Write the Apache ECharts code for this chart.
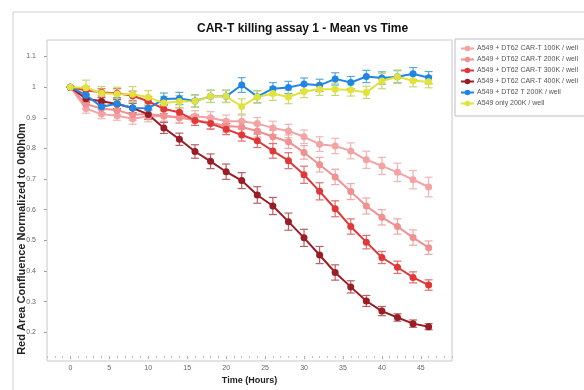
<!DOCTYPE html>
<html>
<head>
<meta charset="utf-8">
<script src="https://cdn.jsdelivr.net/npm/echarts@6/dist/echarts.min.js"></script>
<style>
html,body{margin:0;padding:0;background:#fff;}
#chart{width:584px;height:390px;}
</style>
</head>
<body>
<div id="chart"></div>
<script>
// ---- data ----
const hours = [0,2,4,6,8,10,12,14,16,18,20,22,24,26,28,30,32,34,36,38,40,42,44,46];
const seriesNames = [
  'A549 + DT62 CAR-T 100K / well',
  'A549 + DT62 CAR-T 200K / well',
  'A549 + DT62 CAR-T 300K / well',
  'A549 + DT62 CAR-T 400K / well',
  'A549 + DT62 T 200K / well',
  'A549 only 200K / well'
];
const car100 = [1.0,0.93,0.912,0.907,0.897,0.905,0.905,0.903,0.905,0.900,0.889,0.889,0.881,0.867,0.857,0.838,0.814,0.808,0.792,0.763,0.743,0.722,0.698,0.674];
const car200 = [1.0,0.945,0.93,0.925,0.91,0.912,0.907,0.9,0.893,0.884,0.873,0.87,0.857,0.838,0.822,0.787,0.747,0.707,0.659,0.612,0.575,0.545,0.509,0.476];
const car300 = [1.0,0.99,0.983,0.98,0.972,0.954,0.929,0.918,0.891,0.881,0.863,0.844,0.825,0.792,0.76,0.714,0.66,0.603,0.545,0.494,0.444,0.412,0.379,0.354];
const car400 = [1.0,0.962,0.954,0.945,0.932,0.911,0.867,0.83,0.79,0.758,0.724,0.695,0.648,0.612,0.561,0.508,0.452,0.395,0.348,0.302,0.269,0.248,0.228,0.218];
const tcell200 = [1.0,0.974,0.936,0.946,0.932,0.931,0.961,0.963,0.955,0.97,0.97,1.007,0.969,0.995,0.999,1.01,1.006,1.027,1.015,1.035,1.03,1.034,1.044,1.031];
const a549only = [1.0,0.998,0.98,0.978,0.977,0.967,0.948,0.953,0.954,0.97,0.97,0.937,0.968,0.979,0.968,0.986,0.993,0.993,0.991,0.983,1.02,1.034,1.021,1.018];
// error bar half-widths
const err100 = [0,0.015,0.015,0.015,0.018,0.018,0.018,0.018,0.018,0.02,0.02,0.02,0.02,0.022,0.022,0.022,0.024,0.025,0.026,0.028,0.028,0.03,0.03,0.032];
const err200 = [0,0.015,0.015,0.015,0.018,0.018,0.018,0.018,0.018,0.02,0.02,0.02,0.02,0.022,0.022,0.022,0.024,0.025,0.026,0.026,0.025,0.025,0.025,0.022];
const err300 = [0,0.012,0.012,0.015,0.015,0.015,0.015,0.015,0.016,0.018,0.018,0.02,0.022,0.024,0.026,0.028,0.028,0.026,0.025,0.022,0.02,0.02,0.018,0.017];
const err400 = [0,0.012,0.012,0.015,0.015,0.015,0.018,0.02,0.022,0.024,0.025,0.026,0.027,0.028,0.028,0.028,0.028,0.025,0.02,0.018,0.015,0.012,0.012,0.01];
const errT = [0,0.02,0.02,0.02,0.02,0.02,0.02,0.02,0.02,0.02,0.02,0.024,0.02,0.02,0.02,0.02,0.02,0.02,0.02,0.02,0.02,0.02,0.02,0.02];
const errOnly = [0,0.025,0.022,0.022,0.025,0.022,0.022,0.02,0.02,0.02,0.02,0.025,0.02,0.022,0.022,0.02,0.02,0.02,0.02,0.02,0.025,0.022,0.02,0.02];
const xTickLabels = [0,5,10,15,20,25,30,35,40,45];
const yTickLabels = [0.2,0.3,0.4,0.5,0.6,0.7,0.8,0.9,1.0,1.1];

// ---- style ----
const colors = ['#f3a3a3','#f09090','#e03838','#9a1c24','#1f86e6','#e2e23c'];
const barColors = ['#f2b4b4','#eea8a8','#e07070','#b86068','#5fa8d8','#c8d870'];
const means = [car100,car200,car300,car400,tcell200,a549only];
const errs = [err100,err200,err300,err400,errT,errOnly];
const FONT = 'Liberation Sans, Arial, sans-serif';

const chart = echarts.init(document.getElementById('chart'), null, {renderer:'canvas'});

const series = [];
means.forEach((m, k) => {
  const e = errs[k];
  series.push({
    name: seriesNames[k] + ' err',
    type: 'custom',
    xAxisIndex: 0, yAxisIndex: 0,
    z: 2,
    silent: true,
    data: hours.map((t, i) => [t, m[i] - e[i], m[i] + e[i]]),
    renderItem: function (params, api) {
      const x = api.value(0);
      const lo = api.coord([x, api.value(1)]);
      const hi = api.coord([x, api.value(2)]);
      const w = 4;
      const st = {stroke: barColors[k], lineWidth: 1.2};
      return {
        type: 'group',
        children: [
          {type: 'line', shape: {x1: hi[0], y1: hi[1], x2: lo[0], y2: lo[1]}, style: st},
          {type: 'line', shape: {x1: hi[0]-w, y1: hi[1], x2: hi[0]+w, y2: hi[1]}, style: st},
          {type: 'line', shape: {x1: lo[0]-w, y1: lo[1], x2: lo[0]+w, y2: lo[1]}, style: st}
        ]
      };
    }
  });
});
means.forEach((m, k) => {
  series.push({
    name: seriesNames[k],
    type: 'line',
    xAxisIndex: 0, yAxisIndex: 0,
    z: 3,
    data: hours.map((t, i) => [t, m[i]]),
    symbol: 'circle',
    symbolSize: 7,
    showSymbol: true,
    lineStyle: {color: colors[k], width: 2},
    itemStyle: {color: colors[k]},
    emphasis: {disabled: true}
  });
});

const minorTicks = [];
for (let v = -3; v <= 49; v++) minorTicks.push(v);

const option = {
  animation: false,
  backgroundColor: '#fff',
  textStyle: {fontFamily: FONT},
  title: {
    text: 'CAR-T killing assay 1 - Mean vs Time',
    left: 192, top: 18,
    textStyle: {fontFamily: FONT, fontSize: 12, fontWeight: 'bold', color: '#111'}
  },
  graphic: [
    {type: 'rect', shape: {x: 13, y: 12, width: 620, height: 420}, style: {fill: 'none', stroke: '#cfcfcf', lineWidth: 1}, silent: true, z: -1},
    {type: 'rect', shape: {x: 47, y: 40, width: 405, height: 321}, style: {fill: 'none', stroke: '#c8c8c8', lineWidth: 1}, silent: true, z: 1},
    {type: 'text', x: 22, y: 239, rotation: Math.PI / 2,
     style: {text: 'Red Area Confluence Normalized to 0d0h0m', font: 'bold 11px ' + FONT, fill: '#222', align: 'center', verticalAlign: 'middle'}}
  ],
  legend: {
    data: seriesNames,
    orient: 'vertical',
    left: 455, top: 39,
    itemWidth: 13, itemHeight: 7, itemGap: 4,
    padding: [6, 8, 9, 5],
    borderColor: '#bdbdbd', borderWidth: 1,
    textStyle: {fontFamily: FONT, fontSize: 7, color: '#555', padding: [0,0,0,-2]},
    selectedMode: false
  },
  grid: {left: 47, top: 40, right: 132, bottom: 29, containLabel: false},
  xAxis: [{
    type: 'value', min: -3, max: 49,
    name: 'Time (Hours)', nameLocation: 'middle', nameGap: 17,
    nameTextStyle: {fontFamily: FONT, fontSize: 9, fontWeight: 'bold', color: '#222'},
    axisLine: {show: false, onZero: false},
    splitLine: {show: false},
    axisTick: {show: true, length: 3, lineStyle: {color: '#999'}, customValues: xTickLabels},
    axisLabel: {fontSize: 7, color: '#666', margin: 8, customValues: xTickLabels}
  }, {
    type: 'value', min: -3, max: 49, position: 'bottom',
    gridIndex: 0,
    axisLine: {show: false, onZero: false},
    splitLine: {show: false},
    axisTick: {show: true, length: 2, lineStyle: {color: '#bbb'}, customValues: minorTicks},
    axisLabel: {show: false}
  }],
  yAxis: {
    type: 'value', min: 0.122, max: 1.154, position: 'left',
    axisLine: {show: false, onZero: false},
    splitLine: {show: false},
    axisTick: {show: true, length: 3, lineStyle: {color: '#999'}, customValues: yTickLabels},
    axisLabel: {fontSize: 7, color: '#666', margin: 11, customValues: yTickLabels,
      formatter: v => String(Math.round(v * 10) / 10)}
  },
  series: series
};
chart.setOption(option);
</script>
</body>
</html>
